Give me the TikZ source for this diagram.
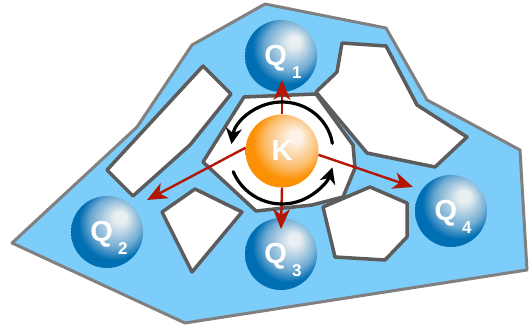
\documentclass[tikz,border=0pt]{standalone}
\usepackage{fontspec}
\setmainfont{Liberation Sans}
\usetikzlibrary{arrows.meta,calc}
\definecolor{region}{RGB}{125,205,250}
\definecolor{outline}{RGB}{128,128,128}
\definecolor{holeline}{RGB}{92,92,92}
\definecolor{arrowred}{RGB}{180,22,6}
\definecolor{qhi}{RGB}{234,239,241}
\definecolor{qmid}{RGB}{110,170,210}
\definecolor{qdark}{RGB}{0,110,178}
\definecolor{khi}{RGB}{252,242,232}
\definecolor{kmid}{RGB}{252,190,110}
\definecolor{kdark}{RGB}{252,145,5}
\pgfdeclareradialshading{qshade}{\pgfpoint{10bp}{11bp}}{color(0bp)=(qhi); color(4bp)=(qhi); color(18bp)=(qmid); color(25bp)=(qdark); color(50bp)=(qdark)}
\pgfdeclareradialshading{kshade}{\pgfpoint{10bp}{11bp}}{color(0bp)=(khi); color(4bp)=(khi); color(18bp)=(kmid); color(25bp)=(kdark); color(50bp)=(kdark)}
\newcommand\qsubscript[1]{\hspace{5pt}\raisebox{-13pt}{\fontsize{17}{17}\selectfont #1}}
\tikzset{
  outerregion/.style={fill=region, draw=outline, line width=3pt, line join=round},
  hole/.style={fill=white, draw=holeline, line width=3.5pt, line join=round},
  qsphere/.style={circle, minimum size=72pt, inner sep=0pt, shading=qshade},
  ksphere/.style={circle, minimum size=73pt, inner sep=0pt, shading=kshade,
    text=white, font=\bfseries\fontsize{29}{29}\selectfont},
  qlabel/.style={text=white, inner sep=0pt, font=\bfseries\fontsize{29}{29}\selectfont},
  relarrow/.style={draw=arrowred, line width=2.4pt, -{Stealth[length=20pt,width=17pt,inset=6pt]}},
  turnarrow/.style={draw=black, line width=3.2pt, line cap=round, -{Stealth[length=16pt,width=16pt,inset=5pt]}},
}
\begin{document}
\begin{tikzpicture}[x=1pt, y=-1pt]
\useasboundingbox (0,0) rectangle (529,329);
% outer region
\path[outerregion] (12,243) -- (137,127) -- (192,45) -- (265,4) -- (386,28) -- (427,100)
  -- (520,150) -- (527,270) -- (185,323) -- cycle;
% holes
\path[hole] (203,66) -- (231,94) -- (190,145) -- (133,196) -- (107,170) -- cycle;
\path[hole] (244,97) -- (316,94) -- (353,145) -- (355,168) -- (343,197) -- (312,205)
  -- (256,211) -- (203,162) -- cycle;
\path[hole] (342,43) -- (386,46) -- (417,105) -- (467,137) -- (435,167) -- (367,153)
  -- (316,92) -- (337,72) -- cycle;
\path[hole] (195,189) -- (242,212) -- (192,272) -- (162,212) -- cycle;
\path[hole] (323,207) -- (370,187) -- (407,203) -- (407,237) -- (385,260) -- (335,257) -- cycle;
% spheres
\node[qsphere] (Q1) at (281,56) {};
\node[qsphere] (Q2) at (107,232) {};
\node[qsphere] (Q3) at (281,254) {};
\node[qsphere] (Q4) at (451,211) {};
\node[ksphere] (K) at (282,151) {K};
% arrow tips
\coordinate (t1) at (282,80);
\coordinate (t2) at (147,200);
\coordinate (t3) at (281,229);
\coordinate (t4) at (413,187);
\draw[relarrow] (K.90) -- (t1);
\draw[relarrow] (K.175) -- (t2);
\draw[relarrow] (K.270) -- (t3);
\draw[relarrow] (K.-6) -- (t4);
% rotation arcs
\draw[turnarrow] ($(K)+(-9:51 and 49)$) arc[start angle=-9, end angle=-172, x radius=51, y radius=49];
\draw[turnarrow] ($(K)+(157:53 and 53)$) arc[start angle=157, end angle=18, x radius=53, y radius=53];
% labels
\node[qlabel] (Q1t) at ($(Q1)+(2,6)$) {Q\qsubscript{1}};
\node[qlabel] (Q2t) at ($(Q2)+(2,6)$) {Q\qsubscript{2}};
\node[qlabel] (Q3t) at ($(Q3)+(2,6)$) {Q\qsubscript{3}};
\node[qlabel] (Q4t) at ($(Q4)+(2,6)$) {Q\qsubscript{4}};
\end{tikzpicture}
\end{document}
